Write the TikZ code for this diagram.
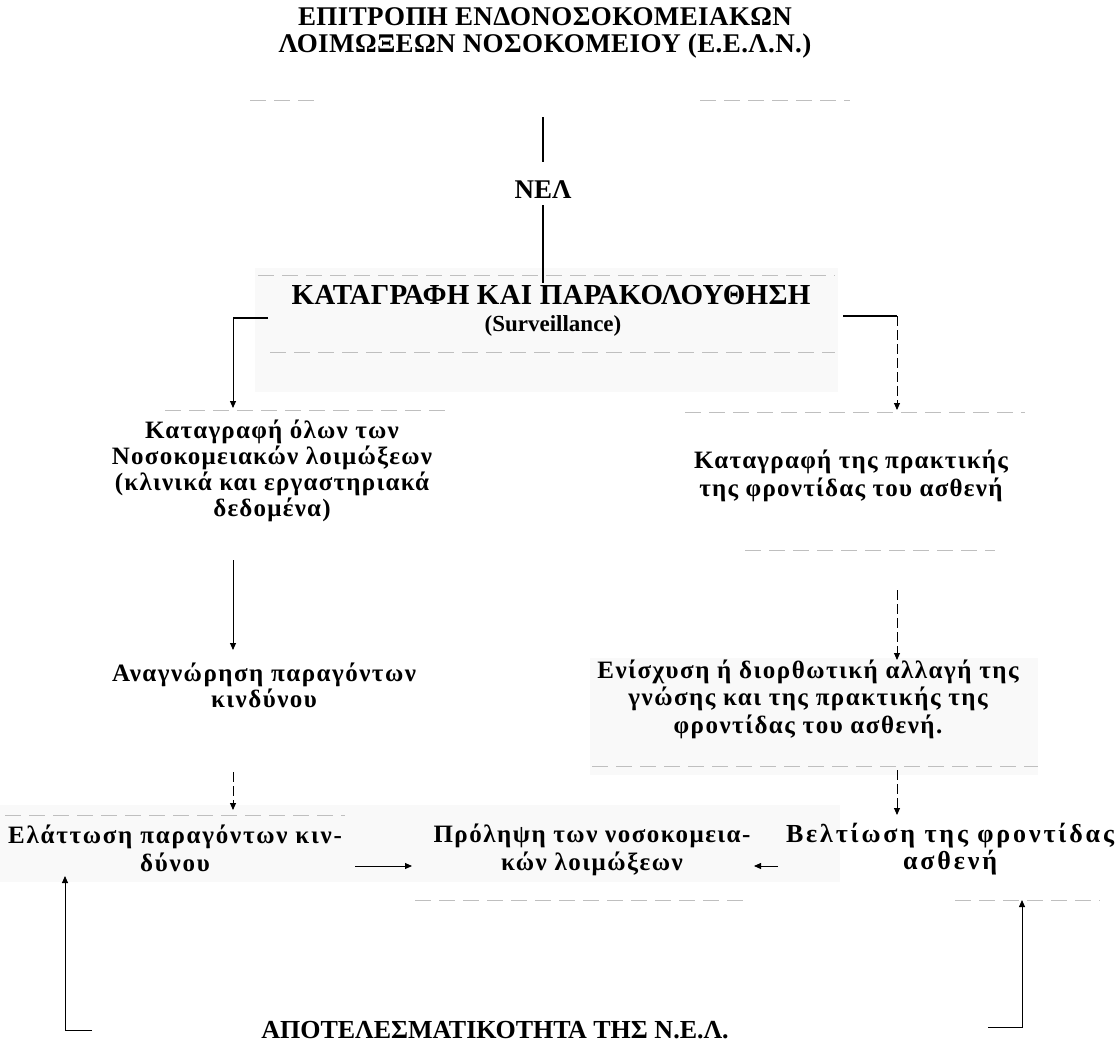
\documentclass[tikz,border=0pt]{standalone}
\usepackage{fontspec}
\setmainfont{Liberation Serif}
\usetikzlibrary{arrows.meta}
\begin{document}
\begin{tikzpicture}[x=1pt,y=-1pt,
  lbl/.style n args={3}{font=\bfseries\fontsize{#1}{#2}\selectfont\addfontfeature{LetterSpace=#3}, align=center, inner sep=0pt},
  heavy/.style={line width=2.2pt},
  arr/.style={line width=0.9pt, -{Triangle[length=7pt,width=6pt]}},
  dasharr/.style={arr, dash pattern=on 10pt off 4pt},
  faint/.style={gray!50, line width=1pt, dash pattern=on 16pt off 8pt},
  band/.style={fill=gray!5, draw=none}]
\useasboundingbox (0,0) rectangle (1119,1044);
% background bands
\path[band] (255,268) rectangle (838,392);
\path[band] (590,658) rectangle (1038,775);
\path[band] (0,805) rectangle (840,882);
% faint box edges
\draw[faint] (250,100) -- (320,100) (700,100) -- (850,100);
\draw[faint] (258,275) -- (835,275);
\draw[faint] (270,352) -- (835,352);
\draw[faint] (165,410) -- (445,410);
\draw[faint] (685,412) -- (1025,412);
\draw[faint] (745,550) -- (995,550);
\draw[faint] (592,766) -- (1038,766);
\draw[faint] (5,815) -- (345,815);
\draw[faint] (415,900) -- (745,900) (955,900) -- (1100,900);
% nodes
\node[lbl={27}{27}{1.5}] (title) at (545,33) {ΕΠΙΤΡΟΠΗ ΕΝΔΟΝΟΣΟΚΟΜΕΙΑΚΩΝ\\ΛΟΙΜΩΞΕΩΝ ΝΟΣΟΚΟΜΕΙΟΥ (Ε.Ε.Λ.Ν.)};
\node[lbl={27}{27}{0}] (nea) at (543,190) {ΝΕΛ};
\node[lbl={29}{29}{1}] (surv) at (551,295) {ΚΑΤΑΓΡΑΦΗ ΚΑΙ ΠΑΡΑΚΟΛΟΥΘΗΣΗ};
\node[lbl={23}{23}{0}] (survsub) at (553,326) {(Surveillance)};
\node[lbl={25}{26}{5}] (left1) at (272,471) {Καταγραφή όλων των\\Νοσοκομειακών λοιμώξεων\\(κλινικά και εργαστηριακά\\δεδομένα)};
\node[lbl={25}{28}{5}] (right1) at (851,476) {Καταγραφή της πρακτικής\\της φροντίδας του ασθενή};
\node[lbl={25}{26}{6}] (left2) at (264,685) {Αναγνώρηση παραγόντων\\κινδύνου};
\node[lbl={25}{27.5}{6}] (right2) at (808,699) {Ενίσχυση ή διορθωτική αλλαγή της\\γνώσης και της πρακτικής της\\φροντίδας του ασθενή.};
\node[lbl={25}{28}{7}] (b1) at (175,848) {Ελάττωση παραγόντων κιν-\\δύνου};
\node[lbl={25}{28}{6}] (b2) at (592,850) {Πρόληψη των νοσοκομεια-\\κών λοιμώξεων};
\node[lbl={26}{27}{11}] (b3) at (950,849) {Βελτίωση της φροντίδας\\ασθενή};
\node[lbl={26}{26}{0}] (eff) at (495,1030) {ΑΠΟΤΕΛΕΣΜΑΤΙΚΟΤΗΤΑ ΤΗΣ Ν.Ε.Λ.};
% helper coordinates
\coordinate (t1) at (543,117);
\coordinate (s1) at (543,283);
\coordinate (sl) at (268,318);
\coordinate (slc) at (233,318);
\coordinate (sr) at (843,316);
\coordinate (src) at (897,316);
\coordinate (l1in) at (233,408);
\coordinate (r1in) at (897,410);
\coordinate (l1out) at (233,560);
\coordinate (l2in) at (233,650);
\coordinate (r1out) at (897,590);
\coordinate (r2in) at (897,660);
\coordinate (l2out) at (233,772);
\coordinate (b1in) at (233,810);
\coordinate (r2out) at (897,770);
\coordinate (b3in) at (897,815);
\coordinate (b1out) at (355,866);
\coordinate (b2inl) at (412,866);
\coordinate (b3out) at (778,866);
\coordinate (b2inr) at (754,866);
\coordinate (el) at (92,1030);
\coordinate (elc) at (65,1030);
\coordinate (b1up) at (65,876);
\coordinate (er) at (988,1027);
\coordinate (erc) at (1022,1027);
\coordinate (b3up) at (1022,900);
% connectors
\draw[heavy] (t1) -- ([yshift=19pt]nea.north);
\draw[heavy] ([yshift=-6pt]nea.south) -- (s1);
\draw[heavy] (sl) -- (slc);
\draw[arr] (slc) -- (l1in);
\draw[heavy] (sr) -- (src);
\draw[dasharr] (src) -- (r1in);
\draw[arr] (l1out) -- (l2in);
\draw[dasharr] (r1out) -- (r2in);
\draw[dasharr] (l2out) -- (b1in);
\draw[dasharr] (r2out) -- (b3in);
\draw[arr] (b1out) -- (b2inl);
\draw[arr] (b3out) -- (b2inr);
\draw[arr] (el) -- (elc) -- (b1up);
\draw[arr] (er) -- (erc) -- (b3up);
\end{tikzpicture}
\end{document}
